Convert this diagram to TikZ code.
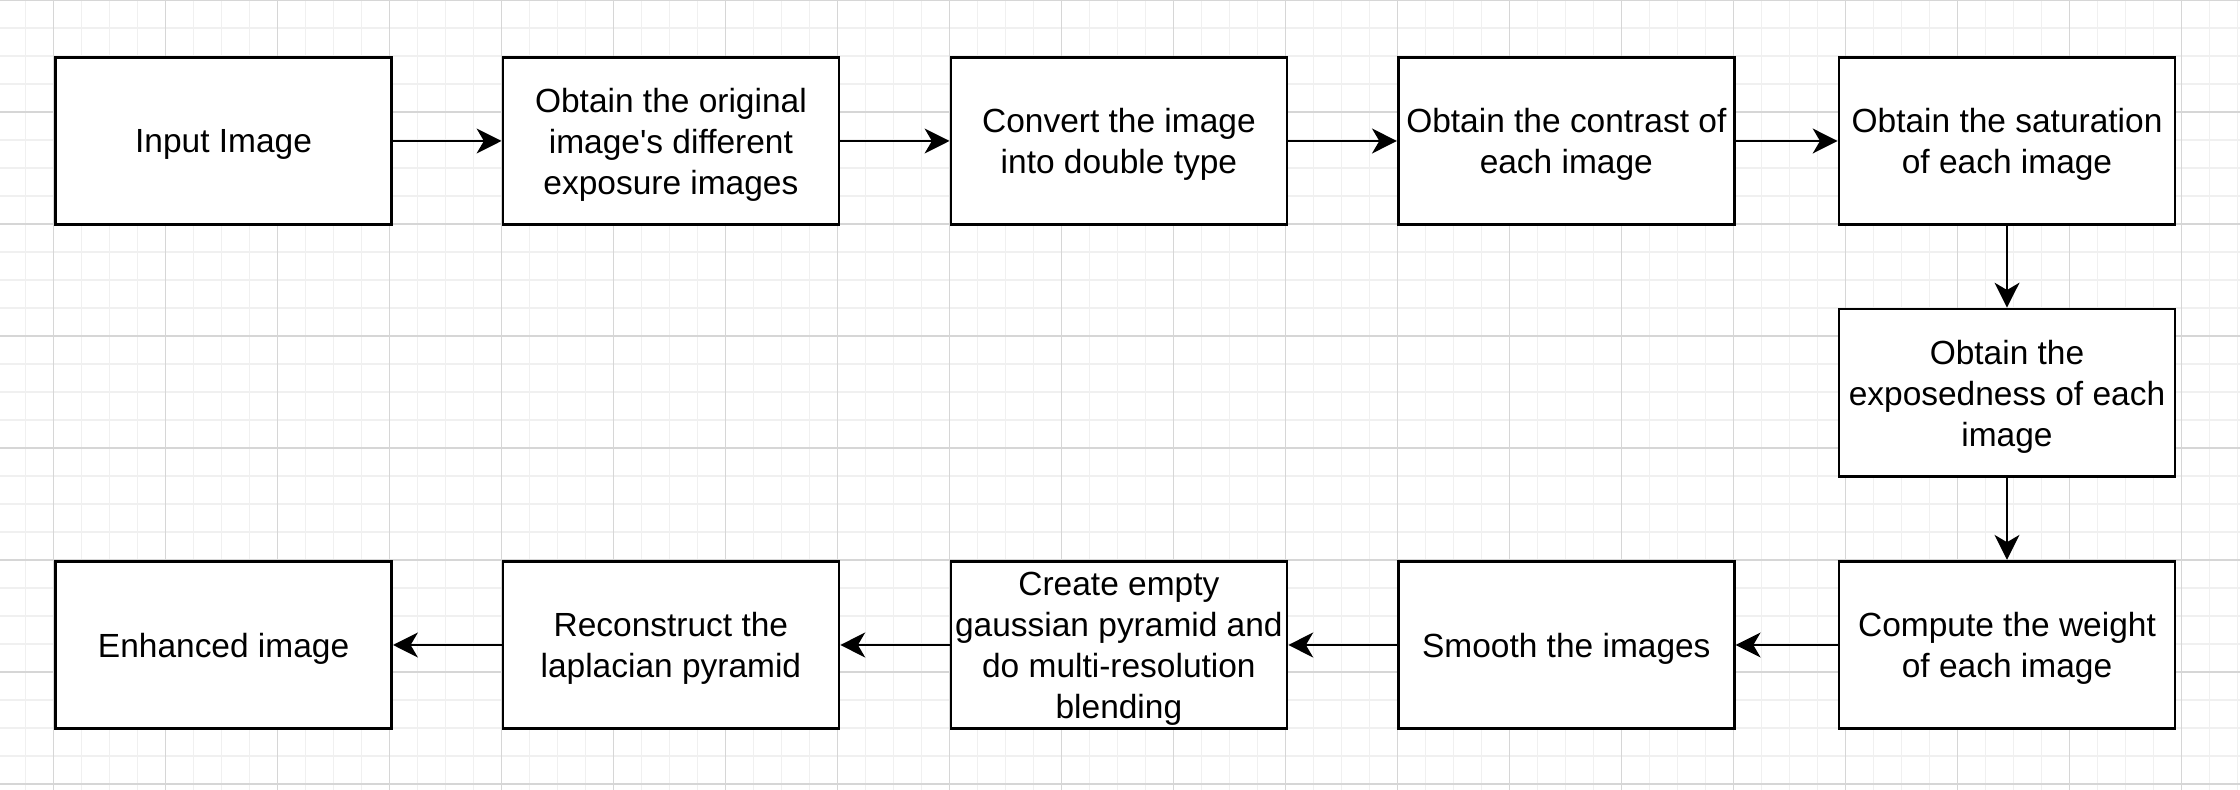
\documentclass[tikz,border=0pt]{standalone}
\usepackage{fontspec}
\setmainfont{Liberation Sans}
\usetikzlibrary{arrows.meta}
\definecolor{gridminor}{RGB}{240,240,240}
\definecolor{gridmajor}{RGB}{214,214,214}
\tikzset{
  stepbox/.style={draw=black, line width=0.7pt, fill=white, minimum width=84pt,
    minimum height=41.9pt, inner sep=0pt},
  steptext/.style={inner sep=0pt, align=center,
    font=\fontsize{8.37pt}{10.25pt}\selectfont},
  flow/.style={draw=black, line width=0.7pt,
    -{Stealth[length=6.2pt,width=6.2pt,inset=1.8pt]}},
  gminor/.style={draw=gridminor, line width=0.35pt},
  gmajor/.style={draw=gridmajor, line width=0.35pt}
}
\newcommand{\boxat}[4]{%
  \node[stepbox] (#1) at (#2,#3) {};
  \node[steptext] (#1t) at ([yshift=-0.9pt]#1.center) {#4};}
\newcommand{\straightquote}{\XeTeXglyph\XeTeXcharglyph"0027\relax}
\begin{document}
\begin{tikzpicture}[x=0.25pt,y=-0.25pt]
\fill[white] (0,0) rectangle (2240,790);
\useasboundingbox (0,0) rectangle (2240,790);
% grid
\foreach \k in {0,...,79} { \draw[gminor] ({25.3+28*\k},0) -- ({25.3+28*\k},790); }
\foreach \k in {0,...,28} { \draw[gminor] (0,{28*\k}) -- (2240,{28*\k}); }
\foreach \k in {0,...,19} { \draw[gmajor] ({53.3+112*\k},0) -- ({53.3+112*\k},790); }
\foreach \k in {0,...,7} { \draw[gmajor] (0,{112*\k}) -- (2240,{112*\k}); }
% nodes
\boxat{n1}{223.6}{141}{Input Image}
\boxat{n2}{670.9}{141}{Obtain the original\\image\straightquote s different\\exposure images}
\boxat{n3}{1118.9}{141}{Convert the image\\into double type}
\boxat{n4}{1566.3}{141}{Obtain the contrast of\\each image}
\boxat{n5}{2007}{141}{Obtain the saturation\\of each image}
\boxat{n6}{2007}{392.8}{Obtain the\\exposedness of each\\image}
\boxat{n7}{2007}{645}{Compute the weight\\of each image}
\boxat{n8}{1566.3}{645}{Smooth the images}
\boxat{n9}{1118.9}{645}{Create empty\\gaussian pyramid and\\do multi-resolution\\blending}
\boxat{n10}{670.9}{645}{Reconstruct the\\laplacian pyramid}
\boxat{n11}{223.6}{645}{Enhanced image}
% connectors
\draw[flow] (n1) -- (n2);
\draw[flow] (n2) -- (n3);
\draw[flow] (n3) -- (n4);
\draw[flow] (n4) -- (n5);
\draw[flow] (n5) -- (n6);
\draw[flow] (n6) -- (n7);
\draw[flow] (n7) -- (n8);
\draw[flow] (n8) -- (n9);
\draw[flow] (n9) -- (n10);
\draw[flow] (n10) -- (n11);
\end{tikzpicture}
\end{document}
